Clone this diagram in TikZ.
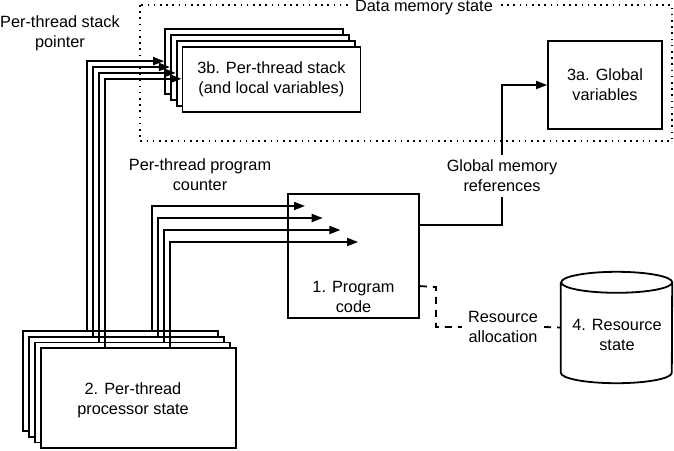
\documentclass[tikz,border=0pt]{standalone}
\usepackage{fontspec}
\setmainfont{Liberation Sans}
\usetikzlibrary{arrows.meta,calc}
\begin{document}
\begin{tikzpicture}[x=1pt,y=-1pt,
  every node/.style={font=\fontsize{16.3}{20}\selectfont},
  box/.style={draw,line width=1.8pt,fill=white,inner sep=0pt,align=center},
  txt/.style={align=center,inner sep=3pt},
  wire/.style={line width=1.8pt},
  arr/.style={line width=1.8pt,-{Triangle[length=11pt,width=8pt]}},
  dash line/.style={line width=1.8pt,dash pattern=on 7pt off 6pt},
  dotted border/.style={line width=1.6pt,dash pattern=on 1.6pt off 4.6pt}]
\useasboundingbox (0,0) rectangle (674,450);
% data memory state region
\draw[dotted border] (140,5) rectangle (672,141);
\node[fill=white,inner sep=4pt] (dms) at (424,8) {Data memory state};
% stack boxes
\foreach \i in {0,1,2,3}{
  \node[box,minimum width=178pt,minimum height=65pt] (stack\i) at (254+5.8*\i,61.5+5.9*\i) {};
}
\node[txt] (stacktxt) at (stack3.center) {3b. Per-thread stack\\(and local variables)};
% global variables
\node[box,minimum width=114pt,minimum height=88pt] (glob) at (605,85) {3a. Global\\variables};
% processor boxes
\foreach \i in {0,1,2,3}{
  \node[box,minimum width=195pt,minimum height=100pt] (proc\i) at (120.5+6*\i,381+5.7*\i) {};
}
\node[txt] (proctxt) at (133,400) {2. Per-thread\\processor state};
% program code
\node[box,minimum width=131pt,minimum height=124pt] (code) at (353.5,256) {};
\node[txt] (codetxt) at ([yshift=22pt]code.south) {1. Program\\code};
% resource state cylinder
\node[minimum width=111pt,minimum height=111pt,inner sep=0pt] (res) at (616.5,327.5) {};
\draw[line width=1.8pt,fill=white]
  ([yshift=-10.5pt]res.north west) -- ([yshift=10.5pt]res.south west)
  arc[start angle=180,end angle=360,x radius=55.5pt,y radius=10.5pt]
  -- ([yshift=-10.5pt]res.north east)
  arc[start angle=0,end angle=180,x radius=55.5pt,y radius=10.5pt]
  arc[start angle=180,end angle=360,x radius=55.5pt,y radius=10.5pt];
\node[txt] (restxt) at (617,335) {4. Resource\\state};
% labels
\node[txt] (splabel) at (60,33) {Per-thread stack\\pointer};
\node[txt] (pclabel) at (200,175) {Per-thread program\\counter};
\node[txt,inner sep=5pt] (gmr) at (502,176) {Global memory\\references};
\node[txt,inner sep=6pt] (ralloc) at (503,327) {Resource\\allocation};
% stack pointer connectors
\foreach \i in {0,1,2,3}{
  \draw[arr] ([xshift=65pt]proc\i.north west) |- ([yshift=-33pt]stack\i.north west);
}
% program counter connectors
\foreach \i in {0,1,2,3}{
  \coordinate (pc\i) at (305+17.7*\i,206+12*\i);
  \draw[arr] ([xshift=130pt]proc\i.north west) |- (pc\i);
}
% global memory references
\draw[wire] ([yshift=-32pt]code.north east) -| (gmr.south);
\draw[arr] (gmr.north) |- (glob.west);
% resource allocation
\coordinate (rbend) at (436,287);
\draw[dash line] ([yshift=-93pt]code.north east) -- (rbend) |- (ralloc.west);
\draw[dash line] (ralloc.east) -- (res.west);
\end{tikzpicture}
\end{document}
